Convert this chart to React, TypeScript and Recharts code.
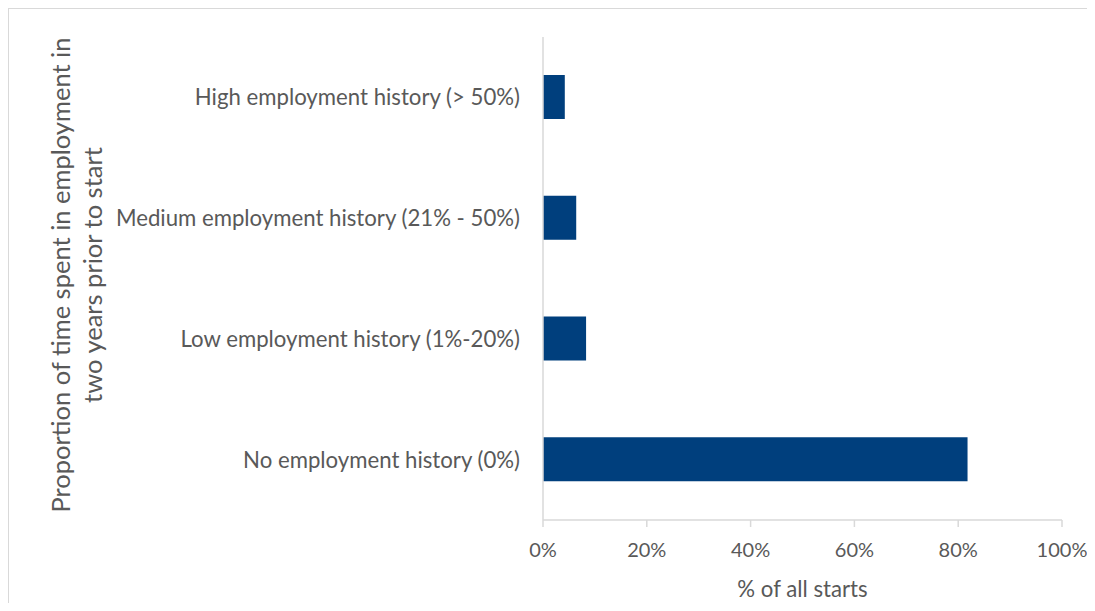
import React from "react";
import { BarChart, Bar, XAxis, YAxis } from "recharts";

const categories = [
  "High employment history (> 50%)",
  "Medium employment history (21% - 50%)",
  "Low employment history (1%-20%)",
  "No employment history (0%)",
];
const shares = [0.042, 0.064, 0.083, 0.818];
const xTicks = [0, 0.2, 0.4, 0.6, 0.8, 1];
const boundaryTicks = [0, 1, 2, 3, 4];

const data = categories.map((name, i) => ({ name, value: shares[i] }));

const FONT = "Lato, 'Open Sans', sans-serif";
const GREY = "#595959";
const LINE = "#d9d9d9";

export default function App() {
  return (
    <div style={{ position: "relative", width: 1087, height: 595, overflow: "hidden", fontFamily: FONT }}>
      <style>{"html, body { overflow: hidden; }"}</style>
      <div
        style={{
          position: "absolute",
          left: 0,
          top: 0,
          width: 1300,
          height: 900,
          borderLeft: `1px solid ${LINE}`,
          borderTop: `1px solid ${LINE}`,
        }}
      />
      <div
        style={{
          position: "absolute",
          left: 68,
          top: 267,
          width: 520,
          transform: "translate(-50%, -50%) rotate(-90deg)",
          textAlign: "center",
          fontSize: 25.5,
          lineHeight: "32px",
          color: GREY,
          whiteSpace: "nowrap",
        }}
      >
        Proportion of time spent in employment in
        <br />
        two years prior to start
      </div>
      <BarChart
        width={1087}
        height={595}
        data={data}
        layout="vertical"
        margin={{ top: 29, right: 33, left: 8, bottom: 3 }}
        style={{ position: "absolute", left: 0, top: 0 }}
      >
        <YAxis
          yAxisId="edge"
          type="number"
          domain={[0, 4]}
          ticks={boundaryTicks}
          width={0}
          tick={false}
          tickSize={7}
          axisLine={false}
          tickLine={{ stroke: LINE, strokeWidth: 1.5 }}
          reversed
        />
        <YAxis
          yAxisId="cat"
          type="category"
          dataKey="name"
          width={527}
          tickSize={0}
          tickMargin={23}
          tickLine={false}
          axisLine={{ stroke: LINE, strokeWidth: 1.5 }}
          tick={{ fontSize: 22.2, fill: GREY, fontFamily: FONT }}
        />
        <XAxis
          type="number"
          domain={[0, 1]}
          ticks={xTicks}
          tickFormatter={(v: number) => `${Math.round(v * 100)}%`}
          height={80}
          tickSize={7}
          tickMargin={16}
          axisLine={{ stroke: LINE, strokeWidth: 1.5 }}
          tickLine={{ stroke: LINE, strokeWidth: 1.5 }}
          tick={{ fontSize: 20, fill: GREY, fontFamily: FONT }}
          label={{ value: "% of all starts", position: "insideBottom", offset: 3, fontSize: 22.2, fill: GREY, fontFamily: FONT }}
        />
        <Bar yAxisId="cat" dataKey="value" fill="#003F7D" barSize={44} isAnimationActive={false} />
      </BarChart>
    </div>
  );
}
